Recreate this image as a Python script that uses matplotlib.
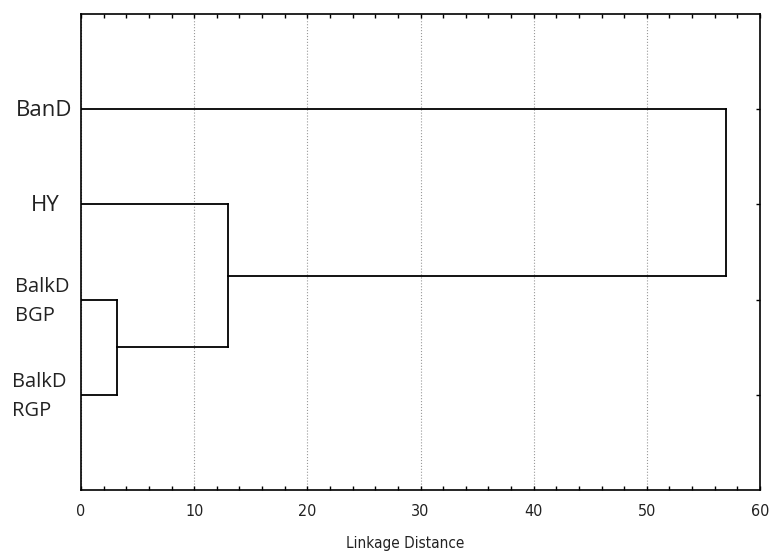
import matplotlib
matplotlib.use("Agg")
import matplotlib.pyplot as plt
from matplotlib import font_manager
from matplotlib.ticker import MultipleLocator
from matplotlib.transforms import blended_transform_factory, ScaledTranslation

# leaves listed top to bottom
leaf_labels = ["BanD", "HY", "BalkD\nBGP", "BalkD\nRGP"]
# merges: (left cluster, right cluster, linkage distance)
# clusters 0..3 are the leaves, 4.. are the merges in order
merges = [(2, 3, 3.2), (1, 4, 13.0), (0, 5, 57.0)]
x_ticks = [0, 10, 20, 30, 40, 50, 60]

# pick a narrow font for the axis text if one is there
condensed = [f.name for f in font_manager.fontManager.ttflist
             if f.stretch in ("condensed", "semi-condensed") or "Narrow" in f.name
             or "Condensed" in f.name]
if "Liberation Sans Narrow" in condensed:
    narrow = dict(family=["Liberation Sans Narrow", "DejaVu Sans"], fontsize=13)
elif "DejaVu Sans" in condensed:
    narrow = dict(family=["DejaVu Sans", "DejaVu Sans"], stretch="condensed", fontsize=11)
else:
    narrow = dict(family=["Liberation Sans", "DejaVu Sans"], fontsize=11)

fig = plt.figure(figsize=(7.72, 5.54), dpi=100)
ax = fig.add_axes([0.1049, 0.1155, 0.8796, 0.8592])

# y position and current x (height) of each cluster
ypos = {i: i + 1 for i in range(len(leaf_labels))}
xpos = {i: 0.0 for i in range(len(leaf_labels))}
lw = 1.3
for k, (a, b, d) in enumerate(merges):
    new = len(leaf_labels) + k
    ax.plot([xpos[a], d], [ypos[a], ypos[a]], color="black", lw=lw)
    ax.plot([xpos[b], d], [ypos[b], ypos[b]], color="black", lw=lw)
    ax.plot([d, d], [ypos[a], ypos[b]], color="black", lw=lw)
    ypos[new] = (ypos[a] + ypos[b]) / 2
    xpos[new] = d

ax.set_xlim(0, 60)
ax.set_ylim(len(leaf_labels) + 1, 0)
ax.set_xticks(x_ticks)
ax.xaxis.set_minor_locator(MultipleLocator(2))
ax.set_yticks(range(1, len(leaf_labels) + 1))
ax.set_yticklabels([])

for lbl in ax.get_xticklabels():
    lbl.set(color="#222222", **narrow)
    lbl.set_fontsize(11.5)

# leaf labels, nudged by hand like the original
trans = blended_transform_factory(ax.transAxes, ax.transData)
label_style = [
    dict(dx=-9, dy=-1, ha="right", size=16),
    dict(dx=-21, dy=-1, ha="right", size=16),
    dict(dx=-66, dy=-2, ha="left", size=14.5),
    dict(dx=-69, dy=-2, ha="left", size=14.5),
]
for i, (txt, st) in enumerate(zip(leaf_labels, label_style)):
    off = ScaledTranslation(st["dx"] / 100, st["dy"] / 100, fig.dpi_scale_trans)
    ax.text(0, i + 1, txt, transform=trans + off, ha=st["ha"], va="center",
            multialignment="left", fontsize=st["size"], linespacing=1.6,
            family=["Open Sans", "DejaVu Sans"], color="#222222")

ax.tick_params(axis="x", which="both", direction="in", top=True, bottom=True,
               length=3, width=1, pad=10)
ax.tick_params(axis="y", which="both", direction="in", left=False, right=True,
               length=3, width=1)

ax.grid(axis="x", linestyle=":", color="#999999", lw=0.8)
for s in ax.spines.values():
    s.set_linewidth(1.2)

ax.set_xlabel("Linkage Distance", color="#222222", **narrow)
ax.xaxis.set_label_coords(0.477, -0.097)

fig.savefig("out.png", dpi=100)
